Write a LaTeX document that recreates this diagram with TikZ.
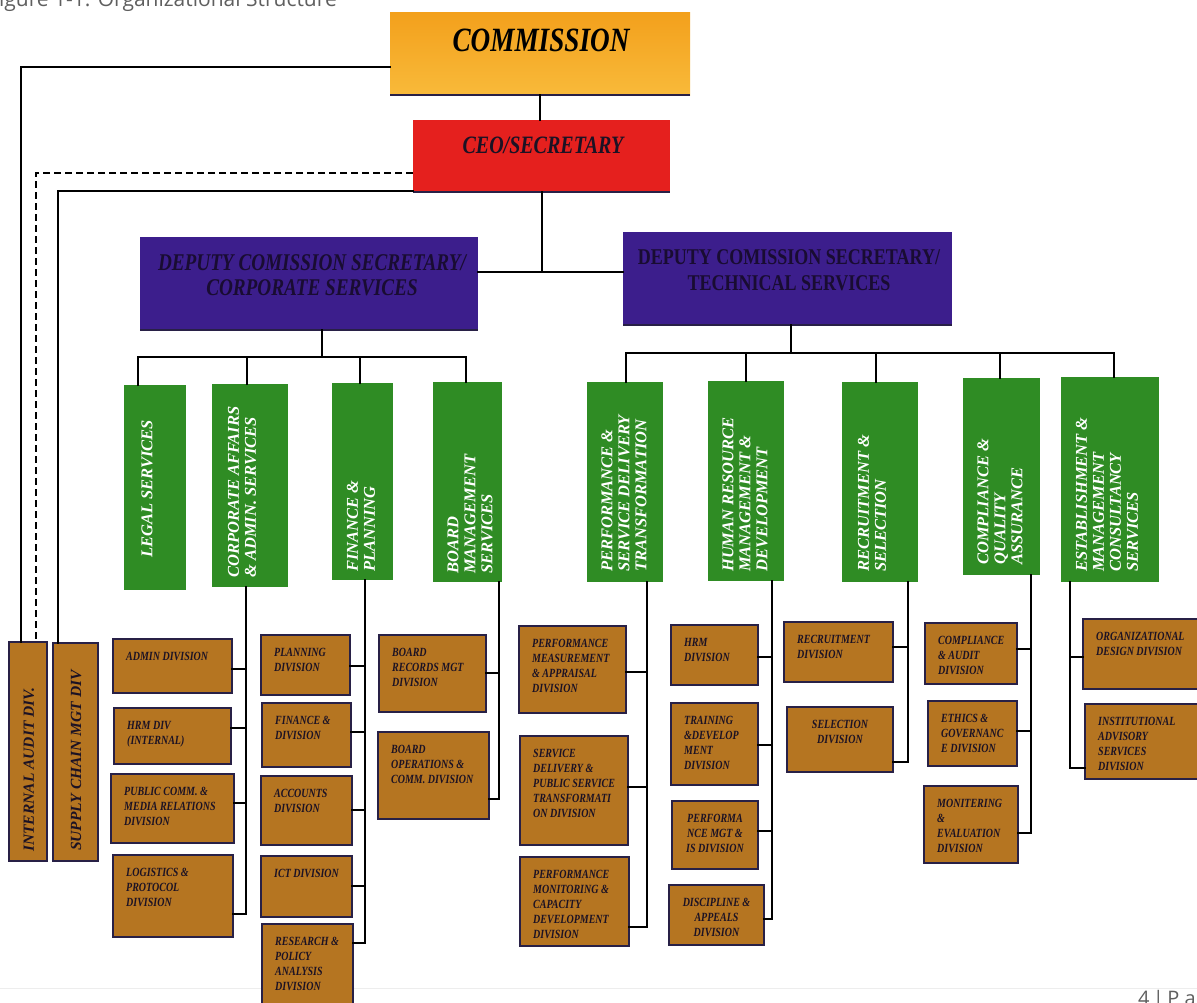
\documentclass[tikz,border=0pt]{standalone}
\usepackage{fontspec}
\setmainfont{Liberation Serif}
\newfontfamily\condf{Liberation Serif}[FakeStretch=0.8]
\newfontfamily\capf{Open Sans}
\definecolor{corange}{RGB}{243,160,28}
\definecolor{corange2}{RGB}{248,186,58}
\definecolor{cred}{RGB}{229,32,30}
\definecolor{cpurple}{RGB}{60,30,140}
\definecolor{cgreen}{RGB}{47,140,36}
\definecolor{cbrown}{RGB}{181,117,33}
\definecolor{cedge}{RGB}{40,32,70}
\definecolor{ctext}{RGB}{28,18,36}
\definecolor{cdeptext}{RGB}{25,12,50}
\definecolor{cgray}{RGB}{95,95,95}
\tikzset{
  conn/.style={line width=2.7pt, black, line cap=rect},
  dconn/.style={line width=2.7pt, black, dash pattern=on 7pt off 4pt},
  topbox/.style={rectangle, inner sep=0, outer sep=0},
  gbox/.style={rectangle, fill=cgreen, inner sep=0, outer sep=0},
  bbox/.style={rectangle, fill=cbrown, draw=cedge, line width=1.8pt, inner sep=0, outer sep=0},
  btxt/.style={inner sep=0, align=left, text=ctext, font=\condf\bfseries\itshape\fontsize{12.5}{15}\selectfont},
  gtxt/.style={inner sep=0, align=left, text=white, font=\bfseries\itshape\fontsize{16.5}{17}\selectfont},
  vtxt/.style={inner sep=0, align=left, text=ctext, font=\bfseries\itshape\fontsize{15.5}{17}\selectfont},
}
\newcommand\mkbox[6]{\node[#1,minimum width={(#5-#3)*1pt},minimum height={(#6-#4)*1pt}] (#2) at ({(#3+#5)/2},{(#4+#6)/2}) {};}
\newcommand\btl[2]{\node[btxt,anchor=north west] (#1-t) at ([xshift=13pt,yshift=-13pt]#1.north west) {#2};}
\newcommand\btc[2]{\node[btxt,anchor=north,align=center] (#1-t) at ([yshift=-13pt]#1.north) {#2};}
\newcommand\mystub[4]{\coordinate (#1-s) at (#3,#4); \draw[conn] (#1-s) -- (#1.#2 |- #1-s);}
\begin{document}
\begin{tikzpicture}[x=1pt,y=-1pt]
\useasboundingbox (0,0) rectangle (1197,1002);
\clip (0,0) rectangle (1197,1002);
\fill[white] (0,0) rectangle (1197,1002);

% caption and footer (cut by the page edge, as in the reference)
\node[anchor=base west, inner sep=0, text=cgray, font=\capf\fontsize{21}{21}\selectfont] (cap) at (-12,6) {Figure 1-1: Organizational Structure};
\draw[line width=1pt, black!7] (0,988) -- (1197,988);
\node[anchor=north west, inner sep=0, text=cgray, font=\capf\fontsize{20}{20}\selectfont] (pg) at (1138,990) {4\,|\,P a g e};

% top level
\mkbox{topbox, top color=corange, bottom color=corange2}{comm}{390}{12}{690}{95}
\node[inner sep=0, font=\condf\bfseries\itshape\fontsize{34}{34}\selectfont, text=black] (comm-t) at (541,40) {COMMISSION};
\mkbox{topbox, fill=cred}{ceo}{413}{120}{670}{192}
\node[inner sep=0, font=\condf\bfseries\itshape\fontsize{25}{25}\selectfont, text=ctext] (ceo-t) at (543,145) {CEO/SECRETARY};
\mkbox{topbox, fill=cpurple}{dl}{140}{237}{478}{330}
\node[inner sep=0, align=center, font=\condf\bfseries\itshape\fontsize{24}{25}\selectfont, text=cdeptext] (dl-t) at (312,275) {DEPUTY COMISSION SECRETARY/\\CORPORATE SERVICES};
\mkbox{topbox, fill=cpurple}{dr}{623}{232}{952}{325}
\node[inner sep=0, align=center, font=\condf\bfseries\fontsize{22.5}{26}\selectfont, text=cdeptext] (dr-t) at (789,270) {DEPUTY COMISSION SECRETARY/\\TECHNICAL SERVICES};
\foreach \b in {comm,ceo,dl,dr}{\draw[line width=2pt, cedge] (\b.south west) -- (\b.south east);}

% side units
\mkbox{bbox}{ia}{9}{642}{47}{861}
\node[vtxt, rotate=90, anchor=west] (ia-t) at (29,852) {INTERNAL AUDIT DIV.};
\mkbox{bbox}{sc}{53}{643}{98}{861}
\node[vtxt, rotate=90, anchor=west] (sc-t) at (76,851) {SUPPLY CHAIN MGT DIV};

% green units
\mkbox{gbox}{legal}{124}{385}{186}{590}
\node[gtxt, rotate=90, anchor=west] (legal-t) at (147,558) {LEGAL SERVICES};
\mkbox{gbox}{corp}{212}{384}{288}{587}
\node[gtxt, rotate=90, anchor=west] (corp-t) at (242,578) {CORPORATE AFFAIRS\\\& ADMIN. SERVICES};
\mkbox{gbox}{fin}{332}{383}{393}{580}
\node[gtxt, rotate=90, anchor=west] (fin-t) at (361,572) {FINANCE \&\\PLANNING};
\mkbox{gbox}{board}{433}{382}{502}{582}
\node[gtxt, rotate=90, anchor=west] (board-t) at (470,574) {BOARD\\MANAGEMENT\\SERVICES};
\mkbox{gbox}{perf}{587}{382}{663}{582}
\node[gtxt, rotate=90, anchor=west] (perf-t) at (624,572) {PERFORMANCE \&\\SERVICE DELIVERY\\TRANSFORMATION};
\mkbox{gbox}{hr}{708}{381}{784}{581}
\node[gtxt, rotate=90, anchor=west] (hr-t) at (745,572) {HUMAN RESOURCE\\MANAGEMENT \&\\DEVELOPMENT};
\mkbox{gbox}{rec}{842}{382}{918}{582}
\node[gtxt, rotate=90, anchor=west] (rec-t) at (872,572) {RECRUITMENT \&\\SELECTION};
\mkbox{gbox}{comp}{963}{378}{1040}{575}
\node[gtxt, rotate=90, anchor=west] (comp-t) at (1000,565) {COMPLIANCE \&\\QUALITY\\ASSURANCE};
\mkbox{gbox}{est}{1061}{377}{1159}{582}
\node[gtxt, rotate=90, anchor=west] (est-t) at (1107,572) {ESTABLISHMENT \&\\MANAGEMENT\\CONSULTANCY\\SERVICES};

% brown divisions
\mkbox{bbox}{admin}{113}{639}{232}{693}\btl{admin}{ADMIN DIVISION}
\mkbox{bbox}{hrmint}{114}{708}{231}{764}\btl{hrmint}{HRM DIV\\(INTERNAL)}
\mkbox{bbox}{pubc}{111}{774}{234}{843}\btl{pubc}{PUBLIC COMM. \&\\MEDIA RELATIONS\\DIVISION}
\mkbox{bbox}{logi}{113}{855}{233}{937}\btl{logi}{LOGISTICS \&\\PROTOCOL\\DIVISION}
\mkbox{bbox}{plan}{261}{635}{350}{695}\btl{plan}{PLANNING\\DIVISION}
\mkbox{bbox}{finad}{262}{703}{351}{767}\btl{finad}{FINANCE \&\\DIVISION}
\mkbox{bbox}{acc}{261}{776}{352}{845}\btl{acc}{ACCOUNTS\\DIVISION}
\mkbox{bbox}{ict}{261}{856}{352}{917}\btl{ict}{ICT DIVISION}
\mkbox{bbox}{res}{262}{924}{353}{1015}\btl{res}{RESEARCH \&\\POLICY\\ANALYSIS\\DIVISION}
\mkbox{bbox}{brec}{379}{635}{486}{712}\btl{brec}{BOARD\\RECORDS MGT\\DIVISION}
\mkbox{bbox}{bops}{378}{732}{489}{819}\btl{bops}{BOARD\\OPERATIONS \&\\COMM. DIVISION}
\mkbox{bbox}{pmeas}{519}{626}{626}{713}\btl{pmeas}{PERFORMANCE\\MEASUREMENT\\\& APPRAISAL\\DIVISION}
\mkbox{bbox}{sdel}{520}{736}{628}{845}\btl{sdel}{SERVICE\\DELIVERY \&\\PUBLIC SERVICE\\TRANSFORMATI\\ON DIVISION}
\mkbox{bbox}{pmon}{520}{857}{629}{946}\btl{pmon}{PERFORMANCE\\MONITORING \&\\CAPACITY\\DEVELOPMENT\\DIVISION}
\mkbox{bbox}{hrmd}{671}{625}{758}{685}\btl{hrmd}{HRM\\DIVISION}
\mkbox{bbox}{train}{671}{703}{758}{785}\btl{train}{TRAINING\\\&DEVELOP\\MENT\\DIVISION}
\mkbox{bbox}{pmis}{672}{801}{758}{869}\btc{pmis}{PERFORMA\\NCE MGT \&\\IS DIVISION}
\mkbox{bbox}{disc}{669}{885}{764}{945}\btc{disc}{DISCIPLINE \&\\APPEALS\\DIVISION}
\mkbox{bbox}{recd}{784}{622}{893}{682}\btl{recd}{RECRUITMENT\\DIVISION}
\mkbox{bbox}{seld}{787}{707}{893}{772}\btc{seld}{SELECTION\\DIVISION}
\mkbox{bbox}{cad}{925}{623}{1017}{684}\btl{cad}{COMPLIANCE\\\& AUDIT\\DIVISION}
\mkbox{bbox}{eth}{928}{701}{1017}{766}\btl{eth}{ETHICS \&\\GOVERNANC\\E DIVISION}
\mkbox{bbox}{mon}{924}{786}{1018}{863}\btl{mon}{MONITERING\\\&\\EVALUATION\\DIVISION}
\mkbox{bbox}{org}{1083}{619}{1215}{689}\btl{org}{ORGANIZATIONAL\\DESIGN DIVISION}
\mkbox{bbox}{inst}{1085}{704}{1215}{779}\btl{inst}{INSTITUTIONAL\\ADVISORY\\SERVICES\\DIVISION}

% connectors: top
\draw[conn] (comm.south) -- (comm.south |- ceo.north);
\coordinate (j1) at (542,272);
\draw[conn] (ceo.south -| j1) -- (j1);
\draw[conn] (dl.east |- j1) -- (dr.west |- j1);
% side units
\coordinate (la) at (21,67);
\draw[conn] (comm.west |- la) -- (la) -- (ia.north -| la);
\coordinate (lb) at (36,173);
\draw[dconn] (ceo.west |- lb) -- (lb) -- (ia.north -| lb);
\coordinate (lc) at (58,191);
\draw[conn] (ceo.west |- lc) -- (lc) -- (sc.north -| lc);

% left bus
\coordinate (bl) at (322,357);
\draw[conn] (dl.south -| bl) -- (bl);
\coordinate (t1) at (138,357);
\coordinate (t2) at (247,357);
\coordinate (t3) at (360,357);
\coordinate (t4) at (466,357);
\draw[conn] (legal.north -| t1) -- (t1) -- (t4) -- (board.north -| t4);
\draw[conn] (t2) -- (corp.north -| t2);
\draw[conn] (t3) -- (fin.north -| t3);
% right bus
\coordinate (br) at (791,353);
\draw[conn] (dr.south -| br) -- (br);
\coordinate (r1) at (626,353);
\coordinate (r2) at (746,353);
\coordinate (r3) at (876,353);
\coordinate (r4) at (1000,353);
\coordinate (r5) at (1114,353);
\draw[conn] (perf.north -| r1) -- (r1) -- (r5) -- (est.north -| r5);
\draw[conn] (r2) -- (hr.north -| r2);
\draw[conn] (r3) -- (rec.north -| r3);
\draw[conn] (r4) -- (comp.north -| r4);

% vertical group lines
\coordinate (corpv) at (246,914);
\draw[conn] (corp.south -| corpv) -- (corpv);
\mystub{admin}{east}{246}{669}
\mystub{hrmint}{east}{246}{728}
\mystub{pubc}{east}{246}{803}
\mystub{logi}{east}{246}{914}
\coordinate (finv) at (365,943);
\draw[conn] (fin.south -| finv) -- (finv);
\mystub{plan}{east}{365}{666}
\mystub{finad}{east}{365}{732}
\mystub{acc}{east}{365}{810}
\mystub{ict}{east}{365}{886}
\mystub{res}{east}{365}{943}
\coordinate (boardv) at (499,799);
\draw[conn] (board.south -| boardv) -- (boardv);
\mystub{brec}{east}{499}{673}
\mystub{bops}{east}{499}{799}
\coordinate (perfv) at (647,927);
\draw[conn] (perf.south -| perfv) -- (perfv);
\mystub{pmeas}{east}{647}{672}
\mystub{sdel}{east}{647}{787}
\mystub{pmon}{east}{647}{927}
\coordinate (hrv) at (772,919);
\draw[conn] (hr.south -| hrv) -- (hrv);
\mystub{hrmd}{east}{772}{657}
\mystub{train}{east}{772}{745}
\mystub{pmis}{east}{772}{831}
\mystub{disc}{east}{772}{919}
\coordinate (recv) at (908,762);
\draw[conn] (rec.south -| recv) -- (recv);
\mystub{recd}{east}{908}{647}
\mystub{seld}{east}{908}{762}
\coordinate (compv) at (1031,833);
\draw[conn] (comp.south -| compv) -- (compv);
\mystub{cad}{east}{1031}{649}
\mystub{eth}{east}{1031}{731}
\mystub{mon}{east}{1031}{833}
\coordinate (estv) at (1070,768);
\draw[conn] (est.south -| estv) -- (estv);
\mystub{org}{west}{1070}{657}
\mystub{inst}{west}{1070}{768}
\end{tikzpicture}
\end{document}
